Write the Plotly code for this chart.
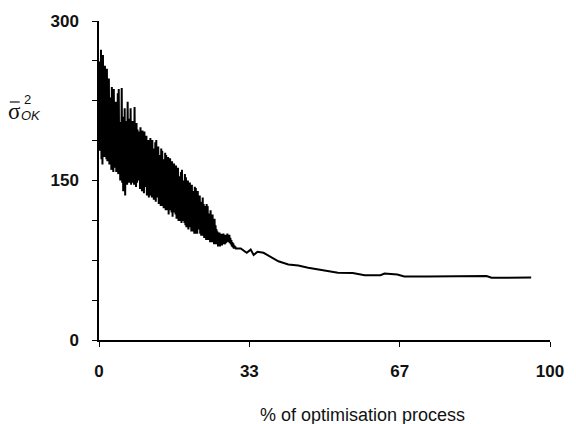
import numpy as np
import plotly.graph_objects as go

# Noisy early phase: upper and lower swings read per pixel column (0 % .. ~30.3 %)
noisy_hi = [195,262,273,250,268,244,258,236,255,240,
            246,228,222,238,206,236,214,224,208,232,
            236,205,198,237,210,204,218,200,206,224,
            196,208,218,194,206,188,219,190,204,198,
            182,196,200,186,197,176,196,184,192,170,
            188,184,190,172,188,178,180,186,188,168,
            182,174,164,180,178,170,160,176,174,166,
            172,156,171,162,168,152,166,158,164,150,
            162,154,146,158,160,150,142,156,153,140,
            150,144,148,136,146,140,132,144,143,136,
            140,128,136,130,124,134,128,126,120,128,
            126,119,112,122,116,118,106,114,108,104,
            102,100,101,94,100,97,100,96,99,97,
            100,97,99,96,94,92,91,89,88]
noisy_lo = [178,182,170,165,186,172,176,170,168,180,
            165,170,160,172,158,162,166,158,164,156,
            160,150,156,148,140,154,136,150,146,158,
            148,154,146,148,156,146,152,144,148,154,
            150,142,148,140,152,138,144,146,136,142,
            134,144,136,134,138,132,140,130,134,136,
            128,130,126,134,126,124,128,122,130,122,
            118,122,124,120,116,120,122,118,114,116,
            112,118,112,110,112,114,110,108,106,110,
            104,106,108,102,104,102,100,104,100,100,
            106,104,100,98,100,98,96,98,94,96,
            94,96,92,94,92,94,90,92,90,92,
            88,90,88,90,89,90,91,90,91,92,
            93,92,91,90,88,87,86,86,86]
noisy_end = 30.33  # % of process where the noisy phase ends

# Settled phase
smooth_x = [31.43, 32.75, 33.63, 34.29, 35.16, 36.48, 38.02, 39.78, 41.98, 44.18,
            46.37, 48.57, 50.77, 52.97, 56.26, 58.90, 62.42, 63.30, 66.15, 67.69,
            72.75, 77.58, 78.02, 85.93, 87.03, 92.53, 95.82]
smooth_y = [86, 82, 85, 80, 83, 82, 78, 74, 71, 70,
            68, 66.5, 65, 63.3, 63, 61, 61, 62.5, 61.5, 59.8,
            59.8, 59.8, 60.4, 60.2, 58.5, 58.3, 58.8]

y_tickvals = [0, 37.5, 75, 112.5, 150, 187.5, 225, 262.5, 300]
y_ticktext = ["<b>0</b>", "", "", "", "<b>150</b>", "", "", "", "<b>300</b>"]
x_tickvals = [0, 100/3, 200/3, 100]
x_ticktext = ["<b>0</b>", "<b>33</b>", "<b>67</b>", "<b>100</b>"]

noisy_y = []
for h, l in zip(noisy_hi, noisy_lo):
    noisy_y.extend([h, l])
noisy_x = list(np.linspace(0, noisy_end, len(noisy_y)))

xs = noisy_x + smooth_x
ys = noisy_y + smooth_y

fig = go.Figure()
fig.add_trace(go.Scatter(x=xs, y=ys, mode="lines",
                         line=dict(color="black", width=2), showlegend=False))

W, H = 576, 424
L, R, T, B = 99, 22, 21, 84
pw, ph = W - L - R, H - T - B

def px(xp):
    return (xp - L) / pw

def py(yp):
    return (H - B - yp) / ph

tickfont = dict(family="Liberation Sans, Arial, sans-serif", size=17, color="#111")

fig.update_layout(
    width=W, height=H,
    margin=dict(l=L, r=R, t=T, b=B),
    paper_bgcolor="white", plot_bgcolor="white",
    xaxis=dict(range=[0, 100], tickvals=x_tickvals, ticktext=x_ticktext,
               showline=True, linecolor="black", linewidth=1.5,
               ticks="outside", ticklen=5, tickwidth=1.3, tickcolor="black",
               showgrid=False, zeroline=False, tickfont=tickfont,
               ticklabelstandoff=10),
    yaxis=dict(range=[0, 300], tickvals=y_tickvals, ticktext=y_ticktext,
               showline=True, linecolor="black", linewidth=1.5,
               ticks="outside", ticklen=5, tickwidth=1.3, tickcolor="black",
               showgrid=False, zeroline=False, tickfont=tickfont,
               ticklabelstandoff=10),
    annotations=[
        dict(text="% of optimisation process", xref="paper", yref="paper",
             x=px(365), y=py(415), showarrow=False, xanchor="center", yanchor="middle",
             font=dict(family="Liberation Sans, Arial, sans-serif", size=18, color="#111")),
        dict(text="σ", xref="paper", yref="paper", x=px(13.5), y=py(111),
             showarrow=False, xanchor="center", yanchor="middle",
             font=dict(family="Liberation Serif, serif", size=23, color="#111")),
        dict(text="2", xref="paper", yref="paper", x=px(27), y=py(100),
             showarrow=False, xanchor="center", yanchor="middle",
             font=dict(family="Liberation Sans, Arial, sans-serif", size=13, color="#111")),
        dict(text="<i>OK</i>", xref="paper", yref="paper", x=px(30), y=py(115),
             showarrow=False, xanchor="center", yanchor="middle",
             font=dict(family="Liberation Sans, Arial, sans-serif", size=13, color="#111")),
    ],
    shapes=[
        dict(type="line", xref="paper", yref="paper",
             x0=px(9), x1=px(19), y0=py(102), y1=py(102),
             line=dict(color="#111", width=1.2)),
    ],
)

fig.write_html("out.html")
